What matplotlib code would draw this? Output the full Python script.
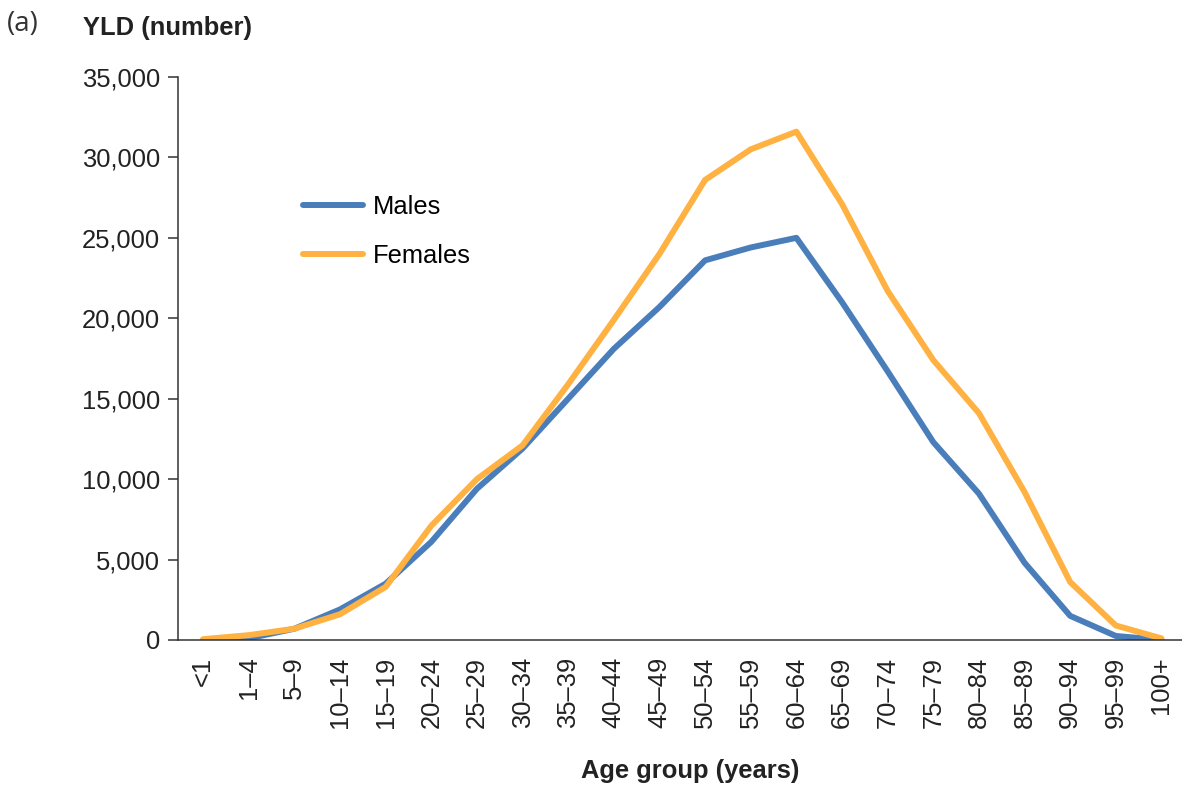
import matplotlib.pyplot as plt
from matplotlib.ticker import FuncFormatter

plt.rcParams['font.family'] = ['Liberation Sans', 'DejaVu Sans']

# age groups and YLD values
ages = ["<1", "1\u20134", "5\u20139", "10\u201314", "15\u201319", "20\u201324", "25\u201329",
        "30\u201334", "35\u201339", "40\u201344", "45\u201349", "50\u201354", "55\u201359",
        "60\u201364", "65\u201369", "70\u201374", "75\u201379", "80\u201384", "85\u201389",
        "90\u201394", "95\u201399", "100+"]
males = [0, 100, 700, 1900, 3500, 6100, 9400, 11900, 15000, 18100, 20700, 23600,
         24400, 25000, 21000, 16700, 12300, 9100, 4800, 1500, 250, 0]
females = [50, 300, 700, 1600, 3300, 7100, 10000, 12100, 15900, 19900, 24000, 28600,
           30500, 31600, 27100, 21700, 17400, 14100, 9200, 3600, 900, 100]

blue = "#4a7ebb"
orange = "#ffb142"

fig = plt.figure(figsize=(11.82, 7.87), dpi=100)
ax = fig.add_axes([0.1506, 0.1868, 0.8494, 0.7154])

x = range(len(ages))
ax.plot(x, males, color=blue, lw=4.3, solid_capstyle="round", solid_joinstyle="round", label="Males")
ax.plot(x, females, color=orange, lw=4.3, solid_capstyle="round", solid_joinstyle="round", label="Females")

ax.set_xlim(-0.55, 21.45)
ax.set_ylim(0, 35000)
ax.set_yticks(range(0, 35001, 5000))
ax.yaxis.set_major_formatter(FuncFormatter(lambda v, p: "{:,.0f}".format(v)))
ax.set_xticks(list(x))
ax.set_xticklabels(ages, rotation=90)

for s in ["top", "right"]:
    ax.spines[s].set_visible(False)
for s in ["left", "bottom"]:
    ax.spines[s].set_color("#333333")
    ax.spines[s].set_linewidth(1.1)

ax.tick_params(axis="y", labelsize=18.4, length=7, width=1.1, color="#333333", pad=6, labelcolor="#222222")
ax.tick_params(axis="x", labelsize=18.4, length=0, pad=12, labelcolor="#222222")

ax.legend(loc="upper left", bbox_to_anchor=(0.124, 0.79), frameon=False, fontsize=18.4,
          handlelength=2.35, handletextpad=0.4, labelspacing=0.97, borderpad=0, borderaxespad=0)

fig.text(0.006, 0.970, "(a)", fontsize=20, family=["Open Sans", "DejaVu Sans"], color="#333333",
         va="center", ha="left")
fig.text(0.070, 0.965, "YLD (number)", fontsize=18.4, fontweight="bold", color="#222222",
         va="center", ha="left")
fig.text(0.584, 0.020, "Age group (years)", fontsize=18.4, fontweight="bold", color="#222222",
         va="center", ha="center")

fig.savefig("out.png", dpi=100)
